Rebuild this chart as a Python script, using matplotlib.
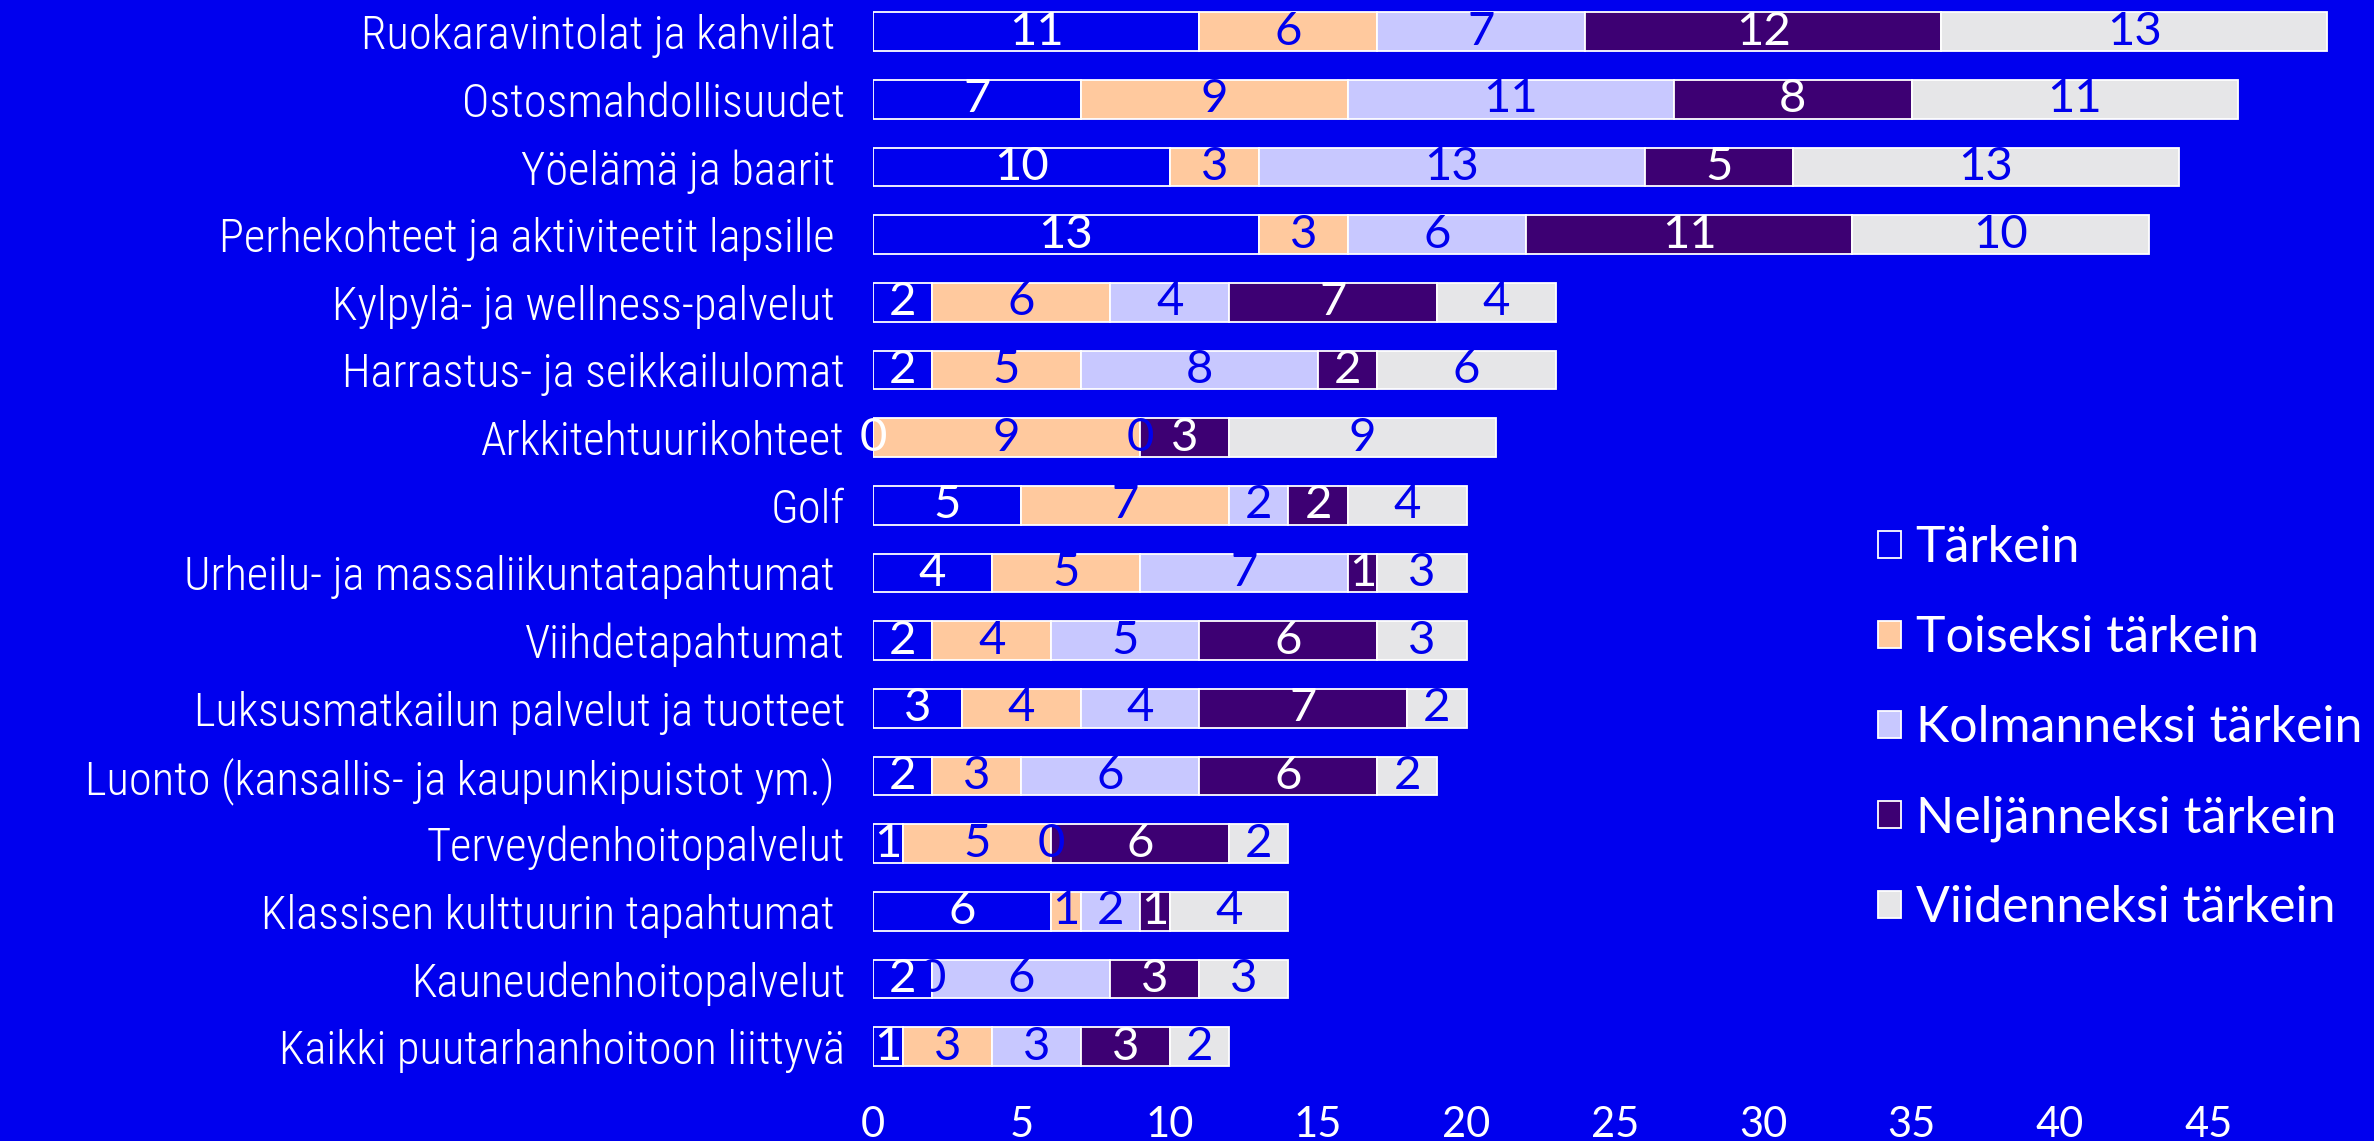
import numpy as np
import matplotlib
matplotlib.use("Agg")
from matplotlib import pyplot as plt
from matplotlib import font_manager
from matplotlib.patches import Patch

##### Data
categories = ["Ruokaravintolat ja kahvilat ",
              "Ostosmahdollisuudet",
              "Yöelämä ja baarit ",
              "Perhekohteet ja aktiviteetit lapsille ",
              "Kylpylä- ja wellness-palvelut ",
              "Harrastus- ja seikkailulomat",
              "Arkkitehtuurikohteet",
              "Golf",
              "Urheilu- ja massaliikuntatapahtumat ",
              "Viihdetapahtumat",
              "Luksusmatkailun palvelut ja tuotteet",
              "Luonto (kansallis- ja kaupunkipuistot ym.) ",
              "Terveydenhoitopalvelut",
              "Klassisen kulttuurin tapahtumat ",
              "Kauneudenhoitopalvelut",
              "Kaikki puutarhanhoitoon liittyvä"]

series_names = ["Tärkein", "Toiseksi tärkein", "Kolmanneksi tärkein",
                "Neljänneksi tärkein", "Viidenneksi tärkein"]

tarkein     = [11, 7, 10, 13, 2, 2, 0, 5, 4, 2, 3, 2, 1, 6, 2, 1]
toiseksi    = [6, 9, 3, 3, 6, 5, 9, 7, 5, 4, 4, 3, 5, 1, 0, 3]
kolmanneksi = [7, 11, 13, 6, 4, 8, 0, 2, 7, 5, 4, 6, 0, 2, 6, 3]
neljanneksi = [12, 8, 5, 11, 7, 2, 3, 2, 1, 6, 7, 6, 6, 1, 3, 3]
viidenneksi = [13, 11, 13, 10, 4, 6, 9, 4, 3, 3, 2, 2, 2, 4, 3, 2]

x_ticks = [0, 5, 10, 15, 20, 25, 30, 35, 40, 45]

##### Style
BG = "#0000EE"
COLORS = [BG, "#FFC99E", "#C8C8FF", "#3D0073", "#E6E6E8"]
TEXT_COLORS = ["white", BG, BG, "white", BG]

plt.rcParams["font.family"] = ["Lato", "DejaVu Sans"]


def narrow_font():
    # pick a condensed face for the long category names if there is one
    names = set(f.name for f in font_manager.fontManager.ttflist)
    for n in ["Liberation Sans Narrow", "Roboto Condensed", "DejaVu Sans Condensed",
              "Open Sans Condensed", "Noto Sans Condensed"]:
        if n in names:
            return n, 33.5
    return "Lato", 29


def plot_stacked(fig_file):
    data = [tarkein, toiseksi, kolmanneksi, neljanneksi, viidenneksi]
    y = np.arange(len(categories))
    cat_font, cat_size = narrow_font()

    fig = plt.figure(figsize=(23.74, 11.41), dpi=100, facecolor=BG)
    ax = fig.add_axes([873 / 2374, 0.05, 0.625, 0.952])
    ax.set_facecolor(BG)

    left = np.zeros(len(categories))
    for vals, name, col, tcol in zip(data, series_names, COLORS, TEXT_COLORS):
        vals = np.array(vals, dtype=float)
        bars = ax.barh(y, vals, left=left, height=0.57, color=col,
                       edgecolor="white", linewidth=1.3, label=name)
        ax.bar_label(bars, labels=["{:.0f}".format(v) for v in vals],
                     label_type="center", color=tcol, fontsize=34)
        left += vals

    ax.set_xlim(0, 50)
    ax.set_ylim(len(categories) - 0.45, -0.5)
    ax.set_xticks(x_ticks)
    ax.set_yticks(y)
    ax.set_yticklabels(categories, family=[cat_font, "DejaVu Sans"],
                       fontsize=cat_size, fontweight="light", color="white")
    ax.tick_params(axis="x", length=0, pad=16, labelsize=30, labelcolor="white")
    ax.tick_params(axis="y", length=0, pad=20)
    for s in ax.spines.values():
        s.set_visible(False)

    handles = [Patch(facecolor=c, edgecolor="white", linewidth=1.3) for c in COLORS]
    fig.legend(handles, series_names, loc="upper left",
               bbox_to_anchor=(1878 / 2374, 1 - 525 / 1141), frameon=False,
               fontsize=36, labelcolor="white", handlelength=0.45, handleheight=0.45,
               handletextpad=0.3, labelspacing=0.88, borderpad=0, borderaxespad=0)

    fig.savefig(fig_file, facecolor=BG)
    plt.close(fig)


if __name__ == "__main__":
    plot_stacked("out.png")
